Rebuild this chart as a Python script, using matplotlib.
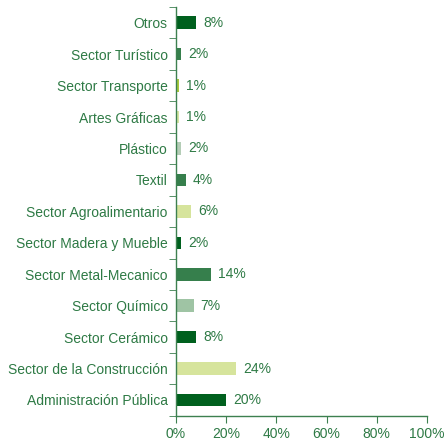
import matplotlib
matplotlib.use("Agg")
import matplotlib.pyplot as plt
import numpy as np

categories = [
    "Otros", "Sector Turístico", "Sector Transporte", "Artes Gráficas",
    "Plástico", "Textil", "Sector Agroalimentario", "Sector Madera y Mueble",
    "Sector Metal-Mecanico", "Sector Químico", "Sector Cerámico",
    "Sector de la Construcción", "Administración Pública",
]
values = [8, 2, 1, 1, 2, 4, 6, 2, 14, 7, 8, 24, 20]
colors = [
    "#00601e", "#367f4c", "#a6c83c", "#d6e6a4",
    "#b4cdb6", "#367f4c", "#d6e49c", "#00601e",
    "#367f4c", "#9fc4a4", "#00601e", "#d6e49c", "#00601e",
]
xticks = [0, 20, 40, 60, 80, 100]

plt.rcParams["font.family"] = ["Liberation Sans", "DejaVu Sans"]

text_color = "#2e7a45"
axis_color = "#3d8050"

fig = plt.figure(figsize=(4.48, 4.38), dpi=100)
ax = fig.add_axes([176 / 448, 1 - 415.7 / 438, (427 - 176) / 448, (415.7 - 7) / 438])

n = len(categories)
y = np.arange(n)
ax.barh(y, values, height=0.4, color=colors)
for yi, v in zip(y, values):
    ax.text(v + 2.8, yi, f"{v}%", va="center", ha="left", fontsize=10, color=text_color)

ax.set_xlim(0, 100)
ax.set_ylim(n - 0.5, -0.5)
ax.set_yticks(y)
ax.set_yticklabels(categories)
ax.set_yticks(np.arange(n + 1) - 0.5, minor=True)
ax.tick_params(axis="y", which="major", length=0, pad=6, labelsize=10, labelcolor=text_color)
ax.tick_params(axis="y", which="minor", length=5, color=axis_color, direction="out")
ax.set_xticks(xticks)
ax.set_xticklabels([f"{t}%" for t in xticks])
ax.tick_params(axis="x", length=5, color=axis_color, labelsize=10, labelcolor=text_color, pad=3)

for s in ["top", "right"]:
    ax.spines[s].set_visible(False)
for s in ["left", "bottom"]:
    ax.spines[s].set_color(axis_color)
    ax.spines[s].set_linewidth(1.0)

fig.savefig("out.png", dpi=100)
